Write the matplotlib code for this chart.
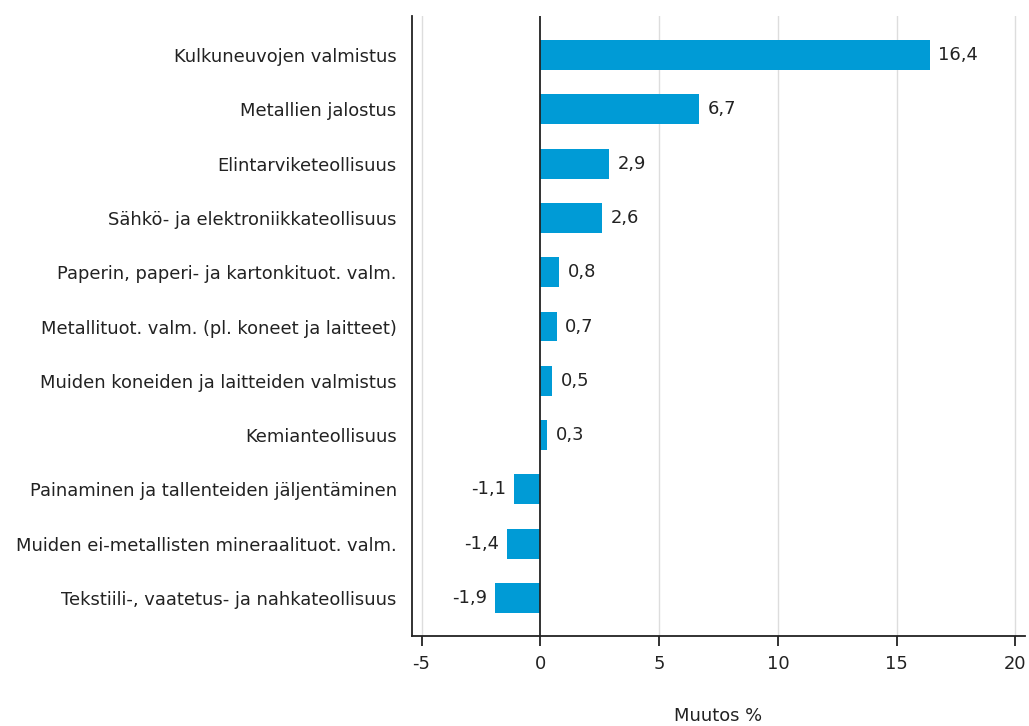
import matplotlib
matplotlib.use("Agg")
import matplotlib.pyplot as plt

categories = [
    "Kulkuneuvojen valmistus",
    "Metallien jalostus",
    "Elintarviketeollisuus",
    "Sähkö- ja elektroniikkateollisuus",
    "Paperin, paperi- ja kartonkituot. valm.",
    "Metallituot. valm. (pl. koneet ja laitteet)",
    "Muiden koneiden ja laitteiden valmistus",
    "Kemianteollisuus",
    "Painaminen ja tallenteiden jäljentäminen",
    "Muiden ei-metallisten mineraalituot. valm.",
    "Tekstiili-, vaatetus- ja nahkateollisuus",
]
values = [16.4, 6.7, 2.9, 2.6, 0.8, 0.7, 0.5, 0.3, -1.1, -1.4, -1.9]
xticks = [-5, 0, 5, 10, 15, 20]

plt.rcParams['font.family'] = ['DejaVu Sans']
FS = 12.9

fig = plt.figure(figsize=(10.29, 7.26), dpi=100)
ax = fig.add_axes([412/1029, 1-636/726, (1025-412)/1029, (636-16)/726])

pos = list(range(len(categories)))
ax.barh(pos, values, height=0.55, color="#009BD6", zorder=3)
ax.set_ylim(len(categories) - 1 + 0.70, -0.72)
ax.set_xlim(-5.4, 20.4)
ax.set_xticks(xticks)
ax.set_xticklabels([str(t) for t in xticks], fontsize=FS, color="#222222")
ax.set_yticks(pos)
ax.set_yticklabels(categories, fontsize=FS, color="#222222")
ax.tick_params(axis='y', length=0, pad=11)
ax.tick_params(axis='x', length=7, width=1.3, color="#222222", pad=7)

for x in xticks:
    if x != 0:
        ax.axvline(x, color="#dddddd", lw=1, zorder=1)
ax.axvline(0, color="#222222", lw=1.3, zorder=4)

for spine in ['top', 'right']:
    ax.spines[spine].set_visible(False)
for spine in ['left', 'bottom']:
    ax.spines[spine].set_linewidth(1.3)
    ax.spines[spine].set_color("#222222")

for p, v in zip(pos, values):
    lbl = f"{v:.1f}".replace(".", ",")
    if v >= 0:
        ax.annotate(lbl, (v, p), xytext=(6, 0), textcoords="offset points",
                    ha="left", va="center", fontsize=FS, color="#222222")
    else:
        ax.annotate(lbl, (v, p), xytext=(-6, 0), textcoords="offset points",
                    ha="right", va="center", fontsize=FS, color="#222222")

ax.set_xlabel("Muutos %", fontsize=FS, color="#222222", labelpad=24)

fig.savefig("out.png", dpi=100)
